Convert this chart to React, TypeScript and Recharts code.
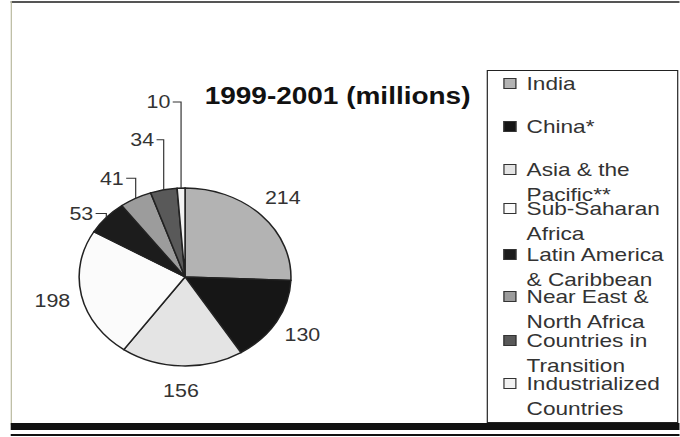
import React from 'react';
import { PieChart, Pie, Cell, Legend } from 'recharts';

// ---- data ----
const REGIONS = [
  'India',
  'China*',
  'Asia & the Pacific**',
  'Sub-Saharan Africa',
  'Latin America & Caribbean',
  'Near East & North Africa',
  'Countries in Transition',
  'Industrialized Countries',
];
const UNDERNOURISHED = [214, 130, 156, 198, 53, 41, 34, 10];
const TITLE = '1999-2001 (millions)';

// ---- styles ----
const COLORS = ['#b3b3b3', '#161616', '#e4e4e4', '#fbfbfb', '#1c1c1c', '#9c9c9c', '#595959', '#f2f2f2'];
const FONT = '"Liberation Sans", Arial, Helvetica, sans-serif';

const SX = 1.19; // horizontal stretch of the scanned original
const W = 680 / SX;
const H = 437;
const CX = 155.5;
const CY = 277;
const R = 89;

// label layout (small slices use leader lines)
const LEADER_LIFT: (number | null)[] = [null, null, null, null, 4, 20, 50, 86];
const LEADER_HOOK = [0, 0, 0, 0, 9, 8, 6, 7];
const LEGEND_ROW_Y = [84, 127, 170, 209, 255, 297, 341, 384];
const LEGEND_LEFT = 409;
const LEGEND_TOP = 70;

const data = REGIONS.map((name, i) => ({ name, value: UNDERNOURISHED[i], fill: COLORS[i] }));

const RAD = Math.PI / 180;

const renderLabel = (props: any) => {
  const { cx, cy, midAngle, outerRadius, index, value } = props;
  const ex = cx + outerRadius * Math.cos(-midAngle * RAD);
  const ey = cy + outerRadius * Math.sin(-midAngle * RAD);
  const lift = LEADER_LIFT[index];
  const textStyle = { fontFamily: FONT, fontSize: 18, fill: '#333' };
  if (lift == null) {
    const lr = outerRadius + 25;
    const x = cx + lr * Math.cos(-midAngle * RAD);
    const y = cy + lr * Math.sin(-midAngle * RAD);
    return (
      <text x={x} y={y} textAnchor="middle" dominantBaseline="central" style={textStyle}>
        {value}
      </text>
    );
  }
  const ly = ey - lift;
  const hx = ex - LEADER_HOOK[index];
  return (
    <g>
      <polyline points={`${ex},${ey} ${ex},${ly} ${hx},${ly}`} fill="none" stroke="#333" strokeWidth={1} />
      <text x={hx - 2} y={ly} textAnchor="end" dominantBaseline="central" style={textStyle}>
        {value}
      </text>
    </g>
  );
};

const renderLegend = (props: any) => {
  const payload = (props.payload || [])
    .slice()
    .sort((a: any, b: any) => REGIONS.indexOf(a.value) - REGIONS.indexOf(b.value));
  return (
    <div style={{ position: 'relative', width: '100%', height: '100%' }}>
      {payload.map((entry: any, i: number) => (
        <div
          key={i}
          style={{
            position: 'absolute',
            left: 443 - LEGEND_LEFT - 1.5,
            top: LEGEND_ROW_Y[i] - LEGEND_TOP - 12.5 - 1.5,
            width: 126,
            fontFamily: FONT,
            fontSize: 19,
            lineHeight: '25px',
            color: '#333',
          }}
        >
          <span
            style={{
              position: 'absolute',
              left: -19.5,
              top: 7,
              width: 11,
              height: 11,
              background: entry.color,
              border: '1.5px solid #333',
              boxSizing: 'border-box',
            }}
          />
          {entry.value}
        </div>
      ))}
    </div>
  );
};

export default function App() {
  return (
    <div
      style={{
        position: 'absolute',
        left: 0,
        top: 0,
        width: 680,
        height: 437,
        overflow: 'hidden',
        background: '#fff',
      }}
    >
      <div
        style={{
          position: 'absolute',
          left: 0,
          top: 0,
          width: W,
          height: H,
          transform: `scaleX(${SX})`,
          transformOrigin: '0 0',
        }}
      >
        {/* frame */}
        <div style={{ position: 'absolute', left: 9, top: 1, width: W - 9, height: 1.5, background: '#555' }} />
        <div style={{ position: 'absolute', left: 8.5, top: 1, width: 1.8, height: 424, background: '#b9b99e' }} />
        <div style={{ position: 'absolute', left: 8.5, top: 423, width: W - 8.5, height: 7, background: '#111' }} />
        <div style={{ position: 'absolute', left: 8.5, top: 434, width: W - 8.5, height: 2, background: '#111' }} />
        <div
          style={{
            position: 'absolute',
            left: 172,
            top: 84.5,
            fontFamily: FONT,
            fontWeight: 'bold',
            fontSize: 23.5,
            lineHeight: 1,
            whiteSpace: 'nowrap',
            color: '#111',
          }}
        >
          {TITLE}
        </div>
        <div style={{ position: 'absolute', left: 0, top: 0 }}>
          <PieChart width={W} height={H} margin={{ top: 0, right: 0, bottom: 0, left: 0 }}>
            <Pie
              data={data}
              dataKey="value"
              nameKey="name"
              cx={CX}
              cy={CY}
              outerRadius={R}
              startAngle={90}
              endAngle={-270}
              stroke="#222"
              strokeWidth={1.3}
              labelLine={false}
              label={renderLabel}
              isAnimationActive={false}
            >
              {data.map((d, i) => (
                <Cell key={i} fill={COLORS[i]} />
              ))}
            </Pie>
            <Legend
              layout="vertical"
              align="center"
              verticalAlign="middle"
              itemSorter={null as any}
              content={renderLegend}
              wrapperStyle={{
                position: 'absolute',
                left: LEGEND_LEFT,
                top: LEGEND_TOP,
                width: 569.5 - LEGEND_LEFT,
                height: 423 - LEGEND_TOP,
                border: '1.5px solid #222',
                boxSizing: 'border-box',
                background: '#fff',
              }}
            />
          </PieChart>
        </div>
      </div>
    </div>
  );
}
